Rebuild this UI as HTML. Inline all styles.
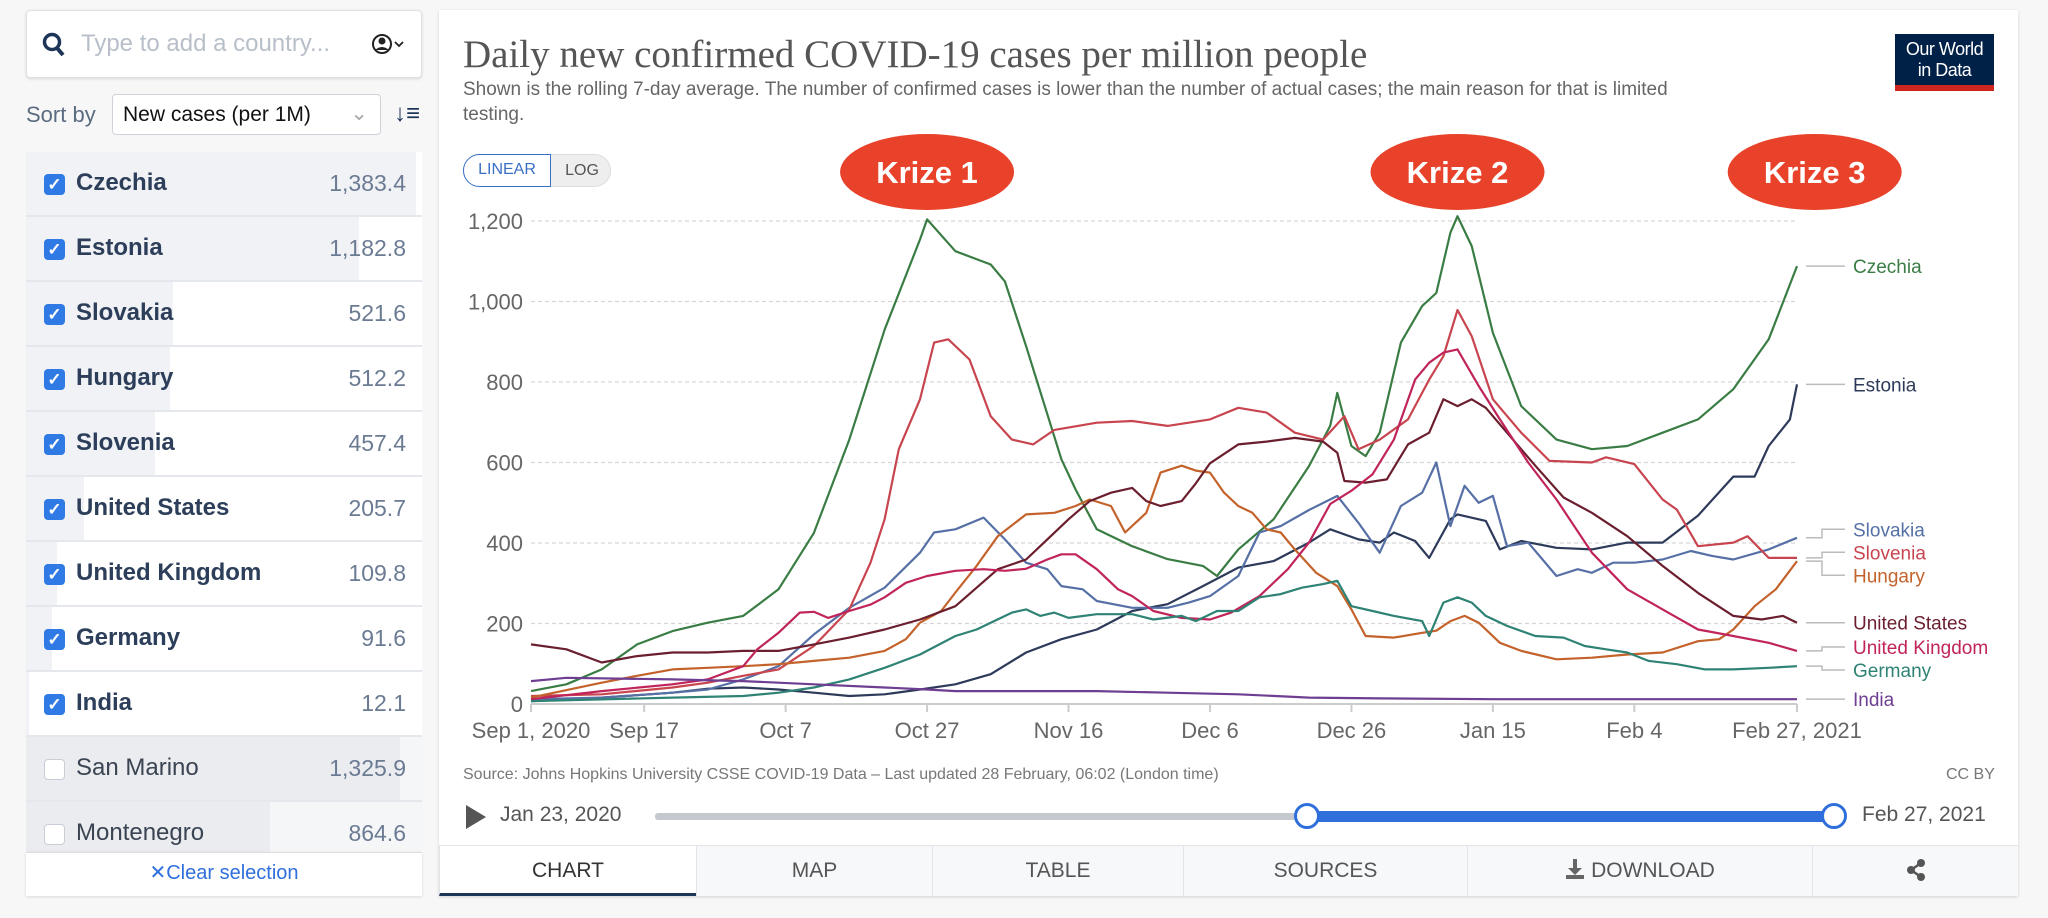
<!DOCTYPE html>
<html><head><meta charset="utf-8">
<style>
*{box-sizing:border-box;margin:0;padding:0}
body{width:2048px;height:918px;background:#f7f7f7;font-family:"Liberation Sans",sans-serif;position:relative;overflow:hidden}
.abs{position:absolute}
.search{left:26px;top:10px;width:396px;height:68px;background:#fff;border:1px solid #dcdfe4;border-radius:4px;box-shadow:0 1px 3px rgba(0,0,0,.12)}
.row{position:absolute;left:26px;width:396px;height:65px;background:#fff;border-bottom:2px solid #e4e7eb;overflow:hidden}
.row .bar{position:absolute;left:0;top:0;bottom:0;background:#f1f2f5}
.row .cb{position:absolute;left:18px;top:22px;width:21px;height:21px;border-radius:4px;background:#2f7ae5;color:#fff;font-size:17px;line-height:21px;text-align:center;font-weight:bold}
.row .cb.off{background:#fff;border:1px solid #c9ced6}
.row .nm{position:absolute;left:50px;top:17px;font-size:24px;font-weight:bold;color:#2c3e5a}
.row .nm.off{font-weight:normal;color:#3a4452}
.row .val{position:absolute;right:16px;top:18px;font-size:23px;color:#6b7b93}
.tab{position:absolute;top:845px;height:51px;background:#f7f8fa;border-left:1px solid #e2e4e8;border-top:1px solid #e2e4e8;font-size:21px;color:#555;text-align:center;line-height:50px}
</style></head><body>
<div class="abs search">
  <svg class="abs" style="left:14px;top:20px" width="26" height="28"><circle cx="11" cy="11" r="7.5" fill="none" stroke="#1d3557" stroke-width="3.5"/><line x1="16" y1="17" x2="22" y2="24" stroke="#1d3557" stroke-width="4"/></svg>
  <div class="abs" style="left:54px;top:19px;font-size:24px;color:#b8bfc9">Type to add a country...</div>
  <svg class="abs" style="left:344px;top:20px" width="36" height="28"><circle cx="11" cy="13" r="9" fill="none" stroke="#222" stroke-width="2"/><circle cx="11" cy="10" r="3.5" fill="#222"/><path d="M4,19 Q11,13 18,19" fill="#222"/><polyline points="24,11 28,15 32,11" fill="none" stroke="#222" stroke-width="1.8"/></svg>
</div>
<div class="abs" style="left:26px;top:102px;font-size:22px;color:#5b6b80">Sort by</div>
<div class="abs" style="left:112px;top:94px;width:269px;height:41px;background:#fff;border:1px solid #cfd3d9;border-radius:4px;font-size:21px;color:#111;padding:8px 10px">New cases (per 1M)<span style="position:absolute;right:12px;top:6px;color:#aaa">&#8964;</span></div>
<div class="abs" style="left:394px;top:100px;font-size:24px;color:#1d3557;font-weight:bold">&#8595;&#8801;</div>

<div id="list"></div>
<div class="abs" style="left:26px;top:852px;width:396px;height:44px;background:#fff;border-top:1px solid #ddd;box-shadow:0 1px 3px rgba(0,0,0,.12);text-align:center;font-size:20px;color:#2f6fdc;line-height:40px">&#10005;Clear selection</div>

<div class="abs" style="left:439px;top:10px;width:1579px;height:886px;background:#fff;box-shadow:0 1px 3px rgba(0,0,0,.15)"></div>
<div class="abs" style="left:463px;top:32px;font-family:'Liberation Serif',serif;font-size:39px;color:#555">Daily new confirmed COVID-19 cases per million people</div>
<div class="abs" style="left:463px;top:77px;width:1250px;font-size:19px;line-height:25px;color:#666">Shown is the rolling 7-day average. The number of confirmed cases is lower than the number of actual cases; the main reason for that is limited testing.</div>
<div class="abs" style="left:1895px;top:34px;width:99px;height:57px;background:#002147;color:#fff;text-align:center;font-size:18px;line-height:21px;padding-top:5px;border-bottom:6px solid #ce261e;letter-spacing:-0.5px">Our World<br>in Data</div>
<div class="abs" style="left:463px;top:154px;width:148px;height:33px;border-radius:17px;background:#eee;border:1px solid #ddd"></div>
<div class="abs" style="left:463px;top:154px;width:88px;height:33px;border-radius:17px 0 0 17px;background:#fff;border:1.5px solid #3a6fc6;color:#3a6fc6;font-size:16px;text-align:center;line-height:30px">LINEAR</div>
<div class="abs" style="left:553px;top:154px;width:58px;height:33px;color:#555;font-size:16px;text-align:center;line-height:33px">LOG</div>

<svg id="chart" class="abs" style="left:0;top:0" width="2048" height="918"></svg>

<div class="abs" style="left:463px;top:766px;font-size:16px;color:#777">Source: Johns Hopkins University CSSE COVID-19 Data – Last updated 28 February, 06:02 (London time)</div>
<div class="abs" style="left:1946px;top:766px;font-size:16px;color:#777">CC BY</div>
<svg class="abs" style="left:464px;top:803px" width="26" height="28"><polygon points="2,2 22,14 2,26" fill="#555"/></svg>
<div class="abs" style="left:500px;top:803px;font-size:21px;color:#555">Jan 23, 2020</div>
<div class="abs" style="left:655px;top:813px;width:1179px;height:7px;background:#c4c8cf;border-radius:3px"></div>
<div class="abs" style="left:1307px;top:811px;width:527px;height:11px;background:#2f6fdc"></div>
<div class="abs" style="left:1294px;top:803px;width:26px;height:26px;border-radius:50%;background:#fff;border:3px solid #2f6fdc"></div>
<div class="abs" style="left:1821px;top:803px;width:26px;height:26px;border-radius:50%;background:#fff;border:3px solid #2f6fdc"></div>
<div class="abs" style="left:1862px;top:803px;font-size:21px;color:#555">Feb 27, 2021</div>

<div class="tab" style="left:439px;width:257px;background:#fff;border-bottom:3px solid #1d3557;color:#333">CHART</div>
<div class="tab" style="left:696px;width:236px">MAP</div>
<div class="tab" style="left:932px;width:251px">TABLE</div>
<div class="tab" style="left:1183px;width:284px">SOURCES</div>
<div class="tab" style="left:1467px;width:345px"><svg width="20" height="22" style="vertical-align:-3px"><rect x="8" y="1" width="4" height="10" fill="#666"/><polygon points="3,10 17,10 10,17" fill="#666"/><rect x="1" y="17" width="18" height="4" fill="#666"/></svg> DOWNLOAD</div>
<div class="tab" style="left:1812px;width:206px"><svg width="20" height="22" style="vertical-align:-4px"><line x1="5" y1="11" x2="15" y2="4" stroke="#555" stroke-width="2.5"/><line x1="5" y1="11" x2="15" y2="18" stroke="#555" stroke-width="2.5"/><circle cx="5" cy="11" r="4" fill="#555"/><circle cx="15" cy="4" r="4" fill="#555"/><circle cx="15" cy="18" r="4" fill="#555"/></svg></div>

<script>
// Sidebar data
const listNames=["Czechia","Estonia","Slovakia","Hungary","Slovenia","United States","United Kingdom","Germany","India","San Marino","Montenegro"];
const listVals=["1,383.4","1,182.8","521.6","512.2","457.4","205.7","109.8","91.6","12.1","1,325.9","864.6"];
const listNums=[1383.4,1182.8,521.6,512.2,457.4,205.7,109.8,91.6,12.1,1325.9,864.6];
const listChecked=[1,1,1,1,1,1,1,1,1,0,0];
const list=document.getElementById('list');
listNames.forEach((n,i)=>{
  const r=document.createElement('div');
  r.className='row';r.style.top=(152+i*65)+'px';
  if(!listChecked[i]) r.style.background='#f5f6f8';
  
  
  const w=Math.min(394,listNums[i]/1383.4*390);
  r.innerHTML='<div class="bar" style="width:'+w+'px;'+(listChecked[i]?'':'background:#eaecef')+'"></div>'+
   '<div class="cb'+(listChecked[i]?'':' off')+'">'+(listChecked[i]?'&#10003;':'')+'</div>'+
   '<div class="nm'+(listChecked[i]?'':' off')+'">'+n+'</div><div class="val">'+listVals[i]+'</div>';
  list.appendChild(r);
});
</script>
<script>
// Chart data (x = days since Sep 1, 2020)
const yTicks=[0,200,400,600,800,1000,1200];
const yTickLabels=["0","200","400","600","800","1,000","1,200"];
const xTickDays=[0,16,36,56,76,96,116,136,156,179];
const xTickLabels=["Sep 1, 2020","Sep 17","Oct 7","Oct 27","Nov 16","Dec 6","Dec 26","Jan 15","Feb 4","Feb 27, 2021"];
const seriesNames=["Czechia","Estonia","Slovakia","Slovenia","Hungary","United States","United Kingdom","Germany","India"];
const seriesColors=["#3a7d44","#2d3a5a","#5670a6","#c8454f","#c4622b","#6b1f2e","#c0245a","#2f8374","#6d3e91"];
const czechiaDays=[0,5,10,15,20,25,30,35,40,45,50,55,56,60,65,67,70,75,77,80,85,90,95,97,100,105,110,113,114,116,118,120,123,126,128,130,131,133,136,140,145,150,155,160,165,170,175,179];
const czechiaVals=[32,49,86,148,181,202,219,285,425,657,930,1154,1204,1125,1092,1050,889,608,533,434,392,360,343,318,384,459,591,691,773,641,616,674,898,989,1021,1171,1212,1138,922,740,657,633,641,674,707,782,906,1088];
const estoniaDays=[0,10,20,25,30,35,40,45,50,55,60,65,70,75,80,85,90,95,100,105,110,113,117,120,122,125,127,130,131,135,137,140,145,150,155,160,165,170,173,175,178,179];
const estoniaVals=[7,16,28,38,41,36,28,20,24,36,49,74,128,161,185,231,248,293,339,355,401,434,409,401,426,405,363,459,471,455,384,405,388,384,401,401,468,565,565,641,707,794];
const slovakiaDays=[0,10,20,25,30,35,40,45,50,55,57,60,64,67,70,73,75,78,80,85,90,93,96,100,103,106,110,114,117,120,123,126,128,130,132,134,136,138,141,145,148,150,153,156,160,164,167,170,175,179];
const slovakiaVals=[12,16,28,36,61,94,173,239,289,376,426,434,463,409,351,335,293,285,256,239,239,252,268,318,426,442,482,517,450,376,492,525,600,442,542,500,517,392,401,318,335,326,351,351,359,380,368,359,384,413];
const sloveniaDays=[0,10,20,25,30,35,40,45,48,50,52,55,57,59,62,65,68,71,74,80,85,90,96,100,104,108,112,115,117,120,124,127,129,131,133,136,140,144,150,152,156,160,162,165,170,172,175,179];
const sloveniaVals=[20,24,41,53,70,86,144,235,351,459,633,757,898,906,856,715,657,645,681,699,703,691,707,736,724,674,657,715,633,657,707,806,864,979,914,757,674,604,600,613,596,508,483,392,401,417,363,363];
const hungaryDays=[0,10,15,20,25,30,35,40,45,50,53,55,58,60,63,66,70,74,77,79,82,84,87,89,92,94,96,98,100,102,104,106,108,111,114,116,118,122,126,128,130,132,134,137,140,145,150,155,160,165,168,170,173,176,179];
const hungaryVals=[16,53,70,86,90,94,99,107,115,132,161,202,231,277,343,417,471,475,492,508,492,426,475,575,592,580,575,525,492,475,434,426,384,326,293,235,169,165,177,182,206,219,202,152,132,111,115,123,128,156,161,185,243,285,355];
const usDays=[0,5,10,15,20,25,30,35,40,45,50,55,60,63,66,70,73,76,79,82,85,87,89,92,94,96,100,104,108,112,114,115,118,121,124,127,129,131,133,135,138,142,146,150,155,160,165,170,174,177,179];
const usVals=[148,136,103,119,128,128,132,132,148,165,185,210,243,289,335,359,409,459,504,525,537,504,492,504,548,598,645,652,661,652,624,554,550,558,645,674,757,740,757,736,674,592,513,475,417,343,276,219,210,219,202];
const ukDays=[0,10,20,25,30,32,35,38,40,42,45,48,50,53,56,60,64,67,70,73,75,77,80,83,85,88,92,96,99,103,107,110,113,116,119,122,125,127,129,131,134,137,141,145,150,155,160,165,170,175,179];
const ukVals=[12,32,49,61,94,136,177,227,229,214,231,247,265,301,318,331,335,331,336,359,372,372,335,285,268,231,214,210,227,268,335,401,497,530,571,657,806,848,873,881,790,707,600,508,376,285,235,185,169,152,132];
const germanyDays=[0,20,30,35,40,45,50,55,60,63,65,68,70,72,74,76,80,85,88,92,94,97,100,103,106,109,112,114,116,119,122,126,127,129,131,133,135,138,142,146,149,152,155,158,162,166,170,175,179];
const germanyVals=[7,16,20,28,41,61,90,123,169,185,202,227,235,219,227,214,223,223,210,219,206,231,231,265,273,289,298,306,243,231,219,206,169,252,265,252,219,194,169,165,144,136,128,107,99,86,86,90,94];
const indiaDays=[0,5,20,30,40,50,56,60,80,90,100,110,120,136,179];
const indiaVals=[57,65,61,57,49,41,36,32,32,28,24,16,14,12,12];
const seriesDays=[czechiaDays,estoniaDays,slovakiaDays,sloveniaDays,hungaryDays,usDays,ukDays,germanyDays,indiaDays];
const seriesVals=[czechiaVals,estoniaVals,slovakiaVals,sloveniaVals,hungaryVals,usVals,ukVals,germanyVals,indiaVals];
const annotations=["Krize 1","Krize 2","Krize 3"];
const annotationDays=[56,131,181.5];

const NS='http://www.w3.org/2000/svg';
const svg=document.getElementById('chart');
const X0=531,X1=1797,Y0=704,Y1=221;
const xs=d=>X0+d*(X1-X0)/179;
const ys=v=>Y0-v*(Y0-Y1)/1200;
function mk(tag,attrs,parent){const e=document.createElementNS(NS,tag);for(const k in attrs)e.setAttribute(k,attrs[k]);(parent||svg).appendChild(e);return e;}

yTicks.forEach((t,i)=>{
  if(t>0){const g=mk('line',{x1:X0,x2:X1,y1:ys(t),y2:ys(t),stroke:'#d6d6d6','stroke-width':1.3,'stroke-dasharray':'4,3'});
  
  }
  const tx=mk('text',{x:523,y:ys(t)+8,'text-anchor':'end','font-size':22,fill:'#666','font-family':'Liberation Sans, sans-serif'});
  tx.textContent=yTickLabels[i];
  
  
});
const ax=mk('line',{x1:X0,x2:X1,y1:Y0,y2:Y0,stroke:'#ccc','stroke-width':2});


xTickDays.forEach((d,i)=>{
  mk('line',{x1:xs(d),x2:xs(d),y1:Y0,y2:Y0+8,stroke:'#ccc','stroke-width':2});
  const tx=mk('text',{x:xs(d),y:738,'text-anchor':'middle','font-size':22,fill:'#666','font-family':'Liberation Sans, sans-serif'});
  tx.textContent=xTickLabels[i];
  
  
});
seriesNames.forEach((n,i)=>{
  const pts=seriesDays[i].map((d,j)=>xs(d).toFixed(1)+','+ys(seriesVals[i][j]).toFixed(1)).join(' ');
  const p=mk('polyline',{points:pts,fill:'none',stroke:seriesColors[i],'stroke-width':2.2,'stroke-linejoin':'round'});
  
  
});
const ends=seriesNames.map((n,i)=>{const v=seriesVals[i];return {i,y:ys(v[v.length-1]),ly:ys(v[v.length-1])};}).sort((a,b)=>a.y-b.y);
for(let it=0;it<60;it++){for(let k=1;k<ends.length;k++){const gap=ends[k].ly-ends[k-1].ly;if(gap<23){const s=(23-gap)/2;ends[k].ly+=s;ends[k-1].ly-=s;}}}
ends.forEach(e=>{
  const c=mk('polyline',{points:`1806,${e.y} 1822,${e.y} 1822,${e.ly} 1845,${e.ly}`,fill:'none',stroke:'#bbb','stroke-width':1.5});
  
  
  const t=mk('text',{x:1853,y:e.ly+7,'font-size':19,fill:seriesColors[e.i],'font-family':'Liberation Sans, sans-serif'});
  t.textContent=seriesNames[e.i];
  
  
});
annotations.forEach((a,i)=>{
  const cx=xs(annotationDays[i]);
  const el=mk('ellipse',{cx:cx,cy:172,rx:87,ry:38,fill:'#e8432a'});
  
  
  const t=mk('text',{x:cx,y:183,'text-anchor':'middle','font-size':31,'font-weight':'bold',fill:'#fff','font-family':'Liberation Sans, sans-serif'});
  t.textContent=a;
  
  
});
</script>
</body></html>
